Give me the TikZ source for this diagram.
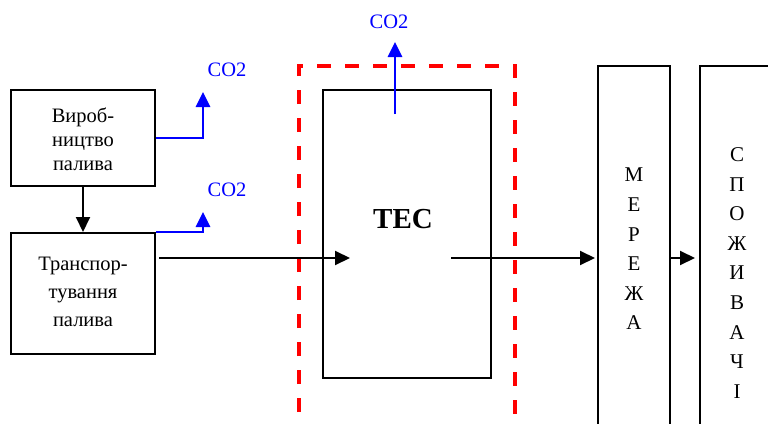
\documentclass[tikz,border=0pt]{standalone}
\usepackage{fontspec}
\setmainfont{Liberation Serif}
\usetikzlibrary{arrows.meta,positioning}
\definecolor{CoBlue}{RGB}{0,0,255}
\definecolor{BoundRed}{RGB}{255,0,0}

\begin{document}
\begin{tikzpicture}[x=1pt,y=-1pt,>={Triangle[length=15pt,width=14pt]},
  blok/.style={draw,line width=2pt,inner sep=0pt},
  tekst/.style={align=center,font=\fontsize{20.5}{24}\selectfont},
  vert/.style={align=center,font=\fontsize{21}{29.6}\selectfont},
  potik/.style={line width=2pt},
  co2line/.style={draw=CoBlue,line width=2.7pt},
  co2txt/.style={text=CoBlue,font=\fontsize{20.5}{24}\selectfont,inner sep=0pt},
  gran/.style={draw=BoundRed,line width=4pt,dash pattern=on 14pt off 14pt}]
  \useasboundingbox (0,0) rectangle (768,423);

  % boundary of the plant
  \draw[gran] (299,440) |- (515,66) -- (515,440);

  % blocks
  \node[blok,minimum width=144,minimum height=96] (vyrob) at (83,138) {};
  \node[tekst] (vyroblbl) at (83,139) {Вироб-\\ництво\\палива};
  \node[blok,minimum width=144,minimum height=121] (transp) at (83,293.5) {};
  \node[tekst,font=\fontsize{20.5}{28}\selectfont] (transplbl) at (83,292) {Транспор-\\тування\\палива};
  \node[blok,minimum width=168,minimum height=288] (tes) at (407,234) {};
  \node[font=\fontsize{29}{30}\selectfont\bfseries] (teslbl) at (403,219) {ТЕС};
  \node[blok,minimum width=72,minimum height=374] (merezha) at (634,253) {};
  \node[vert] (merlbl) at (634,249) {М\\Е\\Р\\Е\\Ж\\А};
  \node[blok,minimum width=90,minimum height=374] (spozh) at (745,253) {};
  \node[vert] (spozlbl) at (737,273) {С\\П\\О\\Ж\\И\\В\\А\\Ч\\І};

  % fuel and energy flows
  \draw[potik,->] (vyrob) -- (transp);
  \coordinate (tesin) at (350,258);
  \coordinate (tesout) at (451,258);
  \draw[potik,->] ([xshift=3pt]transp.east |- tesin) -- (tesin);
  \draw[potik,->,shorten >=2pt] (tesout) -- (merezha.west |- tesout);
  \draw[potik,->,shorten >=4pt] (merezha.east |- tesout) -- (spozh.west |- tesout);

  % CO2 emissions
  \coordinate (co2a) at (203,92);
  \coordinate (co2b) at (203,212);
  \coordinate (tesco2) at (395,114);
  \coordinate (co2c) at (395,42);
  \draw[co2line,->] (vyrob.east) -| (co2a);
  \draw[co2line,->] (transp.north east) -| (co2b);
  \draw[co2line,->] (tesco2) -- (co2c);
  \node[co2txt] (co2lbla) at (227,70) {CO2};
  \node[co2txt] (co2lblb) at (227,190) {CO2};
  \node[co2txt] (co2lblc) at (389,22) {CO2};
\end{tikzpicture}
\end{document}
